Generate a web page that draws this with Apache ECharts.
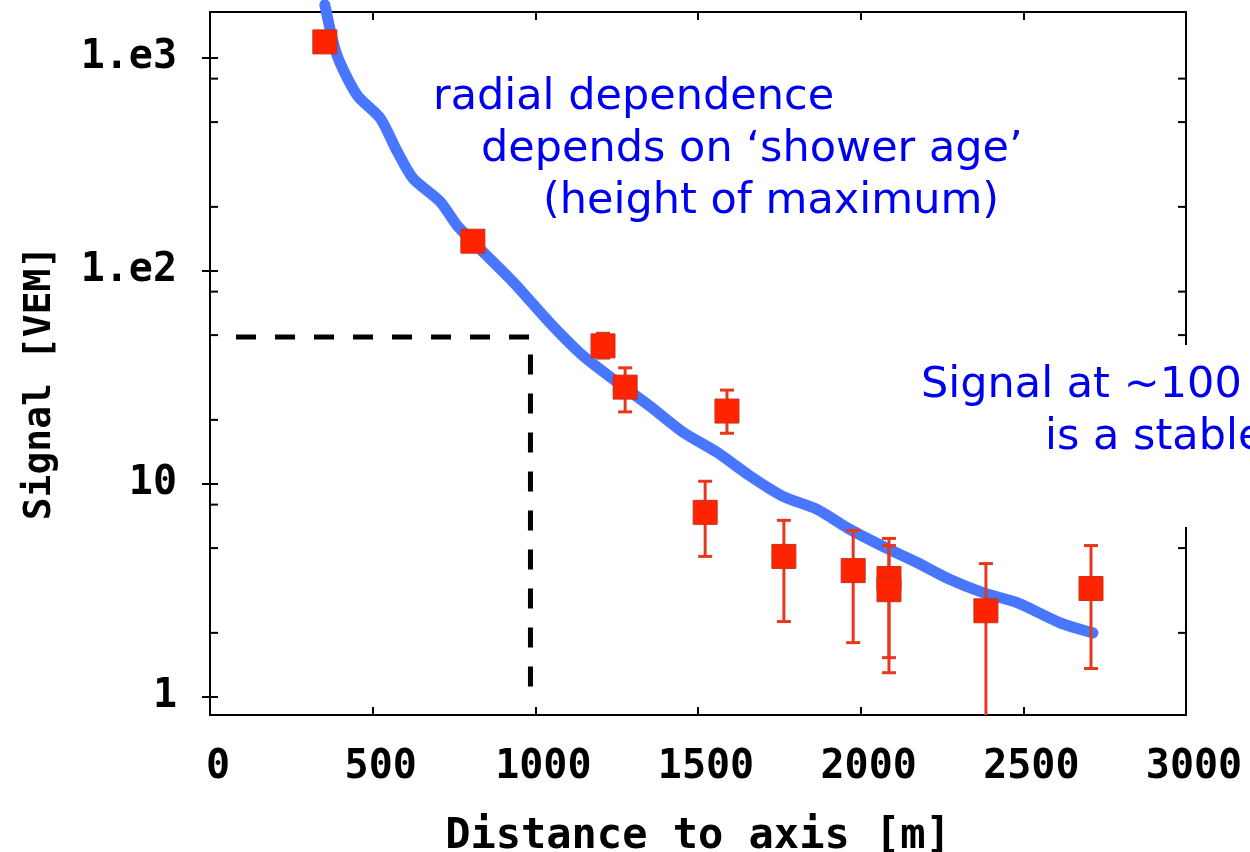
<!DOCTYPE html>
<html>
<head>
<meta charset="utf-8">
<script src="https://cdn.jsdelivr.net/npm/echarts@6/dist/echarts.min.js"></script>
<style>
  html, body { margin: 0; padding: 0; background: #ffffff; }
  #chart { width: 1250px; height: 852px; }
</style>
</head>
<body>
<div id="chart"></div>
<script>
// Axis ticks and labels
const xTickValues = [0, 500, 1000, 1500, 2000, 2500, 3000];
const yTickValues = [1, 10, 100, 1000];
const yTickLabels = ['1', '10', '1.e2', '1.e3'];
const yMinorTicks = [2, 5, 8, 20, 50, 80, 200, 500, 800];

// Lateral distribution function fit (distance in m, signal in VEM)
const ldfDistance = [353, 390, 452, 523, 575, 624, 707, 759, 808, 931, 1045, 1147, 1251, 1352, 1454, 1558, 1660, 1761, 1866, 1967, 2069, 2173, 2275, 2376, 2481, 2613, 2714];
const ldfSignal   = [1778, 1035, 670, 522, 365, 272, 212, 164, 137, 89, 57, 39.9, 30.1, 23.2, 17.5, 14.1, 10.9, 8.75, 7.6, 6.12, 5.09, 4.28, 3.56, 3.09, 2.77, 2.23, 2.0];

// Station signals with uncertainty bounds
const stationDistance = [353, 808, 1208, 1276, 1522, 1589, 1764, 1977, 2087, 2087, 2385, 2708];
const stationSignal   = [1190, 138, 44.5, 28.5, 7.36, 22.0, 4.57, 3.92, 3.60, 3.19, 2.54, 3.23];
const stationLow      = [null, null, 39, 21.8, 4.57, 17.3, 2.26, 1.80, 1.53, 1.30, 0.5, 1.36];
const stationHigh     = [null, null, 51, 35.1, 10.3, 27.6, 6.75, 6.05, 5.55, 5.14, 4.23, 5.14];

// Guide to the signal at 1000 m
const guideDistance = [80, 985, 985];
const guideSignal   = [49, 49, 1];

const X_MIN = 0, X_MAX = 3000;
const Y_MIN = 0.823, Y_MAX = 1644;

const axisFont = {
  color: '#000000',
  fontFamily: 'DejaVu Sans Mono',
  fontWeight: 'bold',
  fontSize: 40
};
const noteFont = {
  fill: '#0000f0',
  fontFamily: 'DejaVu Sans',
  fontSize: 43,
  verticalAlign: 'middle'
};

const chart = echarts.init(document.getElementById('chart'), null, { renderer: 'canvas' });

const pairs = (xs, ys) => xs.map((x, i) => [x, ys[i]]);

const errorData = stationDistance
  .map((d, i) => [d, stationLow[i], stationHigh[i]])
  .filter(r => r[1] != null && r[2] != null);

const tickStyle = { show: true, inside: true, length: 8, lineStyle: { color: '#000', width: 2 } };

const option = {
  animation: false,
  backgroundColor: '#ffffff',
  grid: {
    left: 210, top: 12, width: 976, height: 703,
    outerBoundsMode: 'none',
    containLabel: false,
    show: true, borderColor: '#000000', borderWidth: 2, backgroundColor: 'transparent'
  },
  xAxis: [
    {
      type: 'value', position: 'bottom', min: X_MIN, max: X_MAX, interval: 500,
      axisLine: { show: false },
      axisTick: tickStyle,
      splitLine: { show: false },
      axisLabel: Object.assign({ margin: 33, padding: [0, 0, 0, 16], showMinLabel: true, showMaxLabel: true,
        customValues: xTickValues, formatter: v => String(v) }, axisFont),
      name: 'Distance to axis [m]',
      nameLocation: 'middle', nameGap: 101,
      nameTextStyle: Object.assign({}, axisFont, { fontSize: 42 })
    },
    {
      type: 'value', position: 'top', min: X_MIN, max: X_MAX, interval: 500,
      axisLine: { show: false },
      axisTick: tickStyle,
      splitLine: { show: false },
      axisLabel: { show: false }
    }
  ],
  yAxis: [
    {
      type: 'log', logBase: 10, position: 'left', min: Y_MIN, max: Y_MAX,
      axisLine: { show: false },
      axisTick: Object.assign({ customValues: yTickValues }, tickStyle),
      splitLine: { show: false },
      axisLabel: Object.assign({ margin: 33, customValues: yTickValues,
        formatter: v => {
          const k = yTickValues.findIndex(t => Math.abs(t - v) / t < 1e-6);
          return k >= 0 ? yTickLabels[k] : '';
        } }, axisFont)
    },
    {
      type: 'log', logBase: 10, position: 'right', min: Y_MIN, max: Y_MAX,
      axisLine: { show: false },
      axisTick: Object.assign({ customValues: yTickValues }, tickStyle),
      splitLine: { show: false },
      axisLabel: { show: false }
    }
  ],
  series: [
    {
      // minor log ticks at 2, 5, 8 per decade on both vertical edges
      type: 'custom',
      xAxisIndex: 0, yAxisIndex: 0,
      silent: true,
      data: yMinorTicks.map(v => [X_MIN, v]),
      encode: { x: 0, y: 1 },
      renderItem: (params, api) => {
        const v = api.value(1);
        const l = api.coord([X_MIN, v]);
        const r = api.coord([X_MAX, v]);
        const st = { stroke: '#000000', lineWidth: 2 };
        return {
          type: 'group',
          children: [
            { type: 'line', shape: { x1: l[0], y1: l[1], x2: l[0] + 8, y2: l[1] }, style: st },
            { type: 'line', shape: { x1: r[0], y1: r[1], x2: r[0] - 8, y2: r[1] }, style: st }
          ]
        };
      },
      z: 3
    },
    {
      type: 'line',
      name: 'guide',
      data: pairs(guideDistance, guideSignal),
      symbol: 'none',
      clip: false,
      lineStyle: { color: '#000000', width: 5, type: [20, 19] },
      z: 4
    },
    {
      type: 'line',
      name: 'LDF',
      data: pairs(ldfDistance, ldfSignal),
      symbol: 'none',
      smooth: 0.25,
      clip: false,
      lineStyle: { color: '#4876ff', width: 11, cap: 'round', join: 'round' },
      z: 5
    },
    {
      type: 'custom',
      name: 'errors',
      data: errorData,
      encode: { x: 0, y: [1, 2] },
      clip: true,
      renderItem: (params, api) => {
        const x = api.value(0);
        const lo = api.coord([x, api.value(1)]);
        const hi = api.coord([x, api.value(2)]);
        const cap = 7;
        const st = { stroke: '#e8381c', lineWidth: 3 };
        return {
          type: 'group',
          children: [
            { type: 'line', shape: { x1: hi[0], y1: hi[1], x2: lo[0], y2: lo[1] }, style: st },
            { type: 'line', shape: { x1: hi[0] - cap, y1: hi[1], x2: hi[0] + cap, y2: hi[1] }, style: st },
            { type: 'line', shape: { x1: lo[0] - cap, y1: lo[1], x2: lo[0] + cap, y2: lo[1] }, style: st }
          ]
        };
      },
      z: 6
    },
    {
      type: 'scatter',
      name: 'stations',
      data: pairs(stationDistance, stationSignal),
      symbol: 'rect',
      symbolSize: 24,
      itemStyle: { color: '#ff2400', borderColor: '#c8301c', borderWidth: 1, opacity: 1 },
      z: 7
    }
  ],
  graphic: [
    // vertical axis title
    { type: 'text', x: 40, y: 383, rotation: Math.PI / 2, z: 20,
      style: { text: 'Signal [VEM]', fill: '#000000', fontFamily: 'DejaVu Sans Mono', fontWeight: 'bold',
               fontSize: 38, align: 'center', verticalAlign: 'middle' } },
    { type: 'text', x: 433, y: 98, z: 20,
      style: Object.assign({ text: 'radial dependence' }, noteFont) },
    { type: 'text', x: 481, y: 150, z: 20,
      style: Object.assign({ text: 'depends on \u2018shower age\u2019' }, noteFont) },
    { type: 'text', x: 543, y: 202, z: 20,
      style: Object.assign({ text: '(height of maximum)' }, noteFont) },
    { type: 'rect', shape: { x: 905, y: 345, width: 345, height: 182 }, z: 19,
      style: { fill: '#ffffff' } },
    { type: 'text', x: 921, y: 386, z: 20,
      style: Object.assign({ text: 'Signal at ~100' }, noteFont) },
    { type: 'text', x: 1045, y: 438, z: 20,
      style: Object.assign({ text: 'is a stable' }, noteFont) }
  ]
};

chart.setOption(option);
</script>
</body>
</html>
